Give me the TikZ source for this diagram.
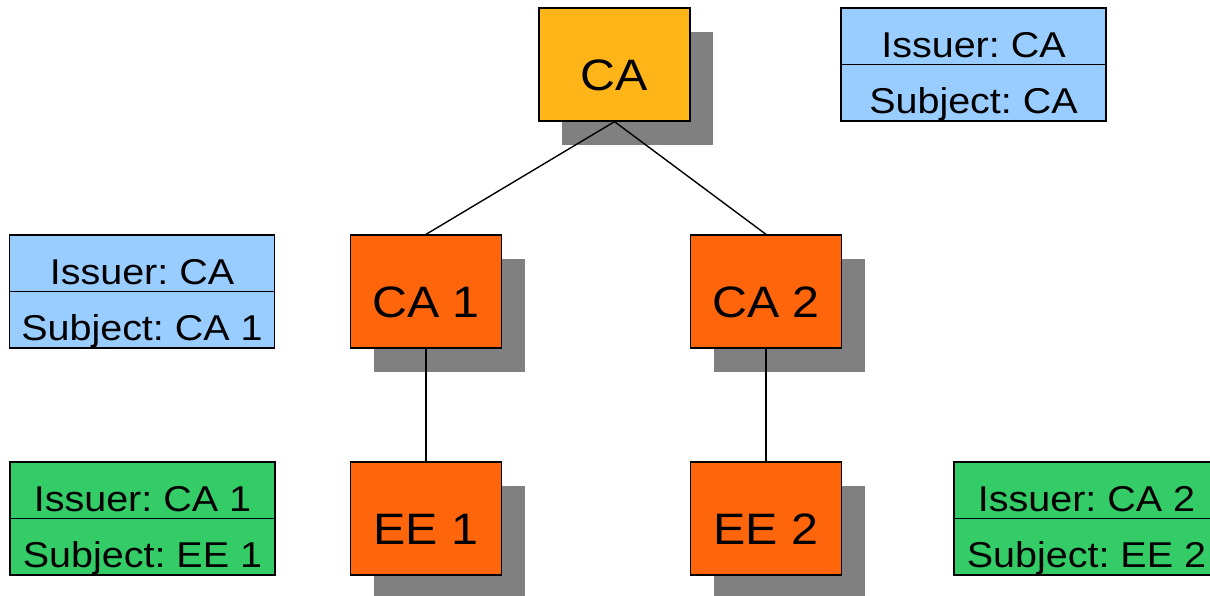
\documentclass[tikz,border=0pt]{standalone}
\usepackage{fontspec}
\setmainfont{Liberation Sans}[FakeStretch=1.1]
\frenchspacing
\usetikzlibrary{shadows}
\definecolor{rootfill}{HTML}{FFB418}
\definecolor{nodefill}{HTML}{FF650A}
\definecolor{certblue}{HTML}{99CCFF}
\definecolor{certgreen}{HTML}{33CC66}
\definecolor{shadowgray}{HTML}{808080}
\tikzset{
  pkibox/.style={draw=black, line width=1.3pt, rectangle, inner sep=0pt,
    minimum width=151pt, minimum height=113pt,
    text height=51pt, text depth=0pt, font=\fontsize{44}{48}\selectfont,
    drop shadow={shadow xshift=23pt, shadow yshift=-24pt, fill=shadowgray, opacity=1}},
  rootbox/.style={pkibox, fill=rootfill},
  subbox/.style={pkibox, fill=nodefill},
  certrow/.style={draw=black, line width=1.3pt, rectangle, inner sep=0pt,
    minimum width=265pt, minimum height=56.5pt,
    text height=41.5pt, text depth=0pt, font=\fontsize{35.9}{40}\selectfont},
  link/.style={draw=black, line width=1.4pt}
}
\begin{document}
\begin{tikzpicture}[x=1pt, y=-1pt]
  \useasboundingbox (0,0) rectangle (1210,595);
  \clip (0,0) rectangle (1210,595);
  \fill[white] (0,0) rectangle (1210,595);

  % hierarchy
  \node[rootbox] (ca)  at (614.5, 64.5)  {CA};
  \node[subbox]  (ca1) at (426, 291.5)   {CA 1};
  \node[subbox]  (ca2) at (766, 291.5)   {CA 2};
  \node[subbox]  (ee1) at (426, 518.5)   {EE 1};
  \node[subbox]  (ee2) at (766, 518.5)   {EE 2};

  \draw[link] (ca.south) -- (ca1.north);
  \draw[link] (ca.south) -- (ca2.north);
  \draw[link] (ca1.south) -- (ee1.north);
  \draw[link] (ca2.south) -- (ee2.north);

  % certificates
  \node[certrow, fill=certblue] (rootiss)  at (973.5, 36.25) {Issuer: CA};
  \node[certrow, fill=certblue] (rootsubj) at (973.5, 92.75) {Subject: CA};

  \node[certrow, fill=certblue] (caoneiss)  at (142, 263.25) {Issuer: CA};
  \node[certrow, fill=certblue] (caonesubj) at (142, 319.75) {Subject: CA 1};

  \node[certrow, fill=certgreen] (eeoneiss)  at (142.5, 490.25) {Issuer: CA 1};
  \node[certrow, fill=certgreen] (eeonesubj) at (142.5, 546.75) {Subject: EE 1};

  \node[certrow, fill=certgreen] (eetwoiss)  at (1086.5, 490.25) {Issuer: CA 2};
  \node[certrow, fill=certgreen] (eetwosubj) at (1086.5, 546.75) {Subject: EE 2};
\end{tikzpicture}
\end{document}
